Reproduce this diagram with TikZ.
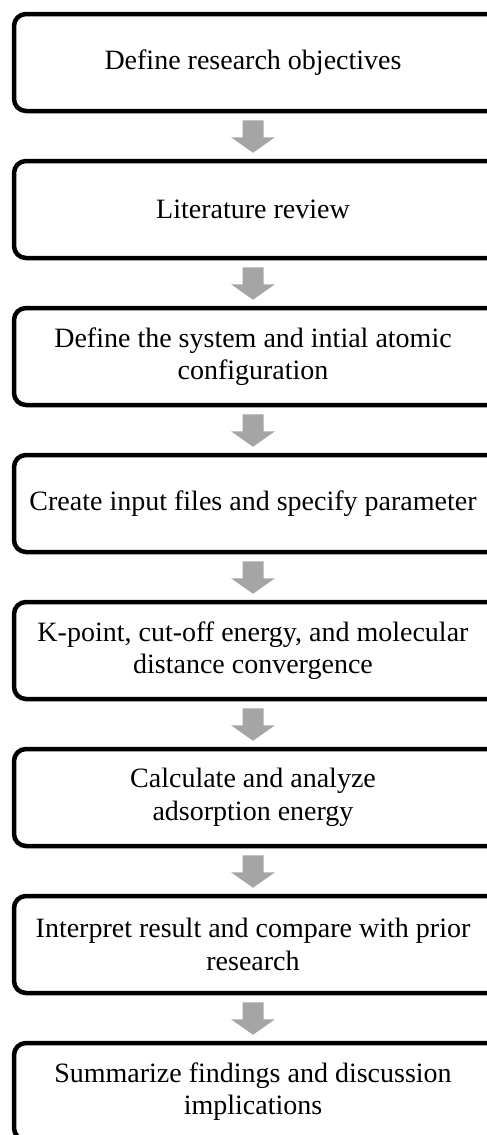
\documentclass[tikz,border=0pt]{standalone}
\usepackage{fontspec}
\setmainfont{Liberation Serif}
\usetikzlibrary{calc}
\definecolor{arrowgray}{HTML}{A5A5A5}
\tikzset{
  stepbox/.style={draw=black, line width=4.5pt, rounded corners=12pt, fill=white,
    minimum width=600pt, minimum height=97pt, inner sep=0pt},
  steptext/.style={align=center, inner sep=0pt, font=\fontsize{28}{32.5}\selectfont},
  arr/.style={fill=arrowgray, draw=none}
}
\newcommand{\flowarrow}[2]{%
  \coordinate (#1s) at (#1t |- #1.south);
  \coordinate (#2n) at (#2t |- #2.north);
  \fill[arr] ($(#1s)+(-10.5,-7)$) -- ++(21,0) -- ++(0,-17) -- ++(11.5,0)
    -- ($(#2n)+(0,6)$) -- ($(#1s)+(-22,-24)$) -- ++(11.5,0) -- cycle;}
\newcommand{\stepnode}[3]{%
  \node[stepbox] (#1) at (314,#2) {};
  \node[steptext] (#1t) at (253,#2) {#3};}
\begin{document}
\begin{tikzpicture}[x=1pt,y=1pt]
\useasboundingbox (0,0) rectangle (487,-1135);
\fill[white] (0,0) rectangle (487,-1135);
\clip (0,0) rectangle (487,-1135);
\stepnode{b1}{-62.5}{Define research objectives}
\stepnode{b2}{-209.5}{Literature review}
\stepnode{b3}{-356.5}{Define the system and intial atomic\\configuration}
\stepnode{b4}{-503.5}{Create input files and specify parameter}
\stepnode{b5}{-650.5}{K-point, cut-off energy, and molecular\\distance convergence}
\stepnode{b6}{-797.5}{Calculate and analyze\\adsorption energy}
\stepnode{b7}{-944.5}{Interpret result and compare with prior\\research}
\stepnode{b8}{-1091.5}{Summarize findings and discussion\\implications}
\flowarrow{b1}{b2}
\flowarrow{b2}{b3}
\flowarrow{b3}{b4}
\flowarrow{b4}{b5}
\flowarrow{b5}{b6}
\flowarrow{b6}{b7}
\flowarrow{b7}{b8}
\end{tikzpicture}
\end{document}
